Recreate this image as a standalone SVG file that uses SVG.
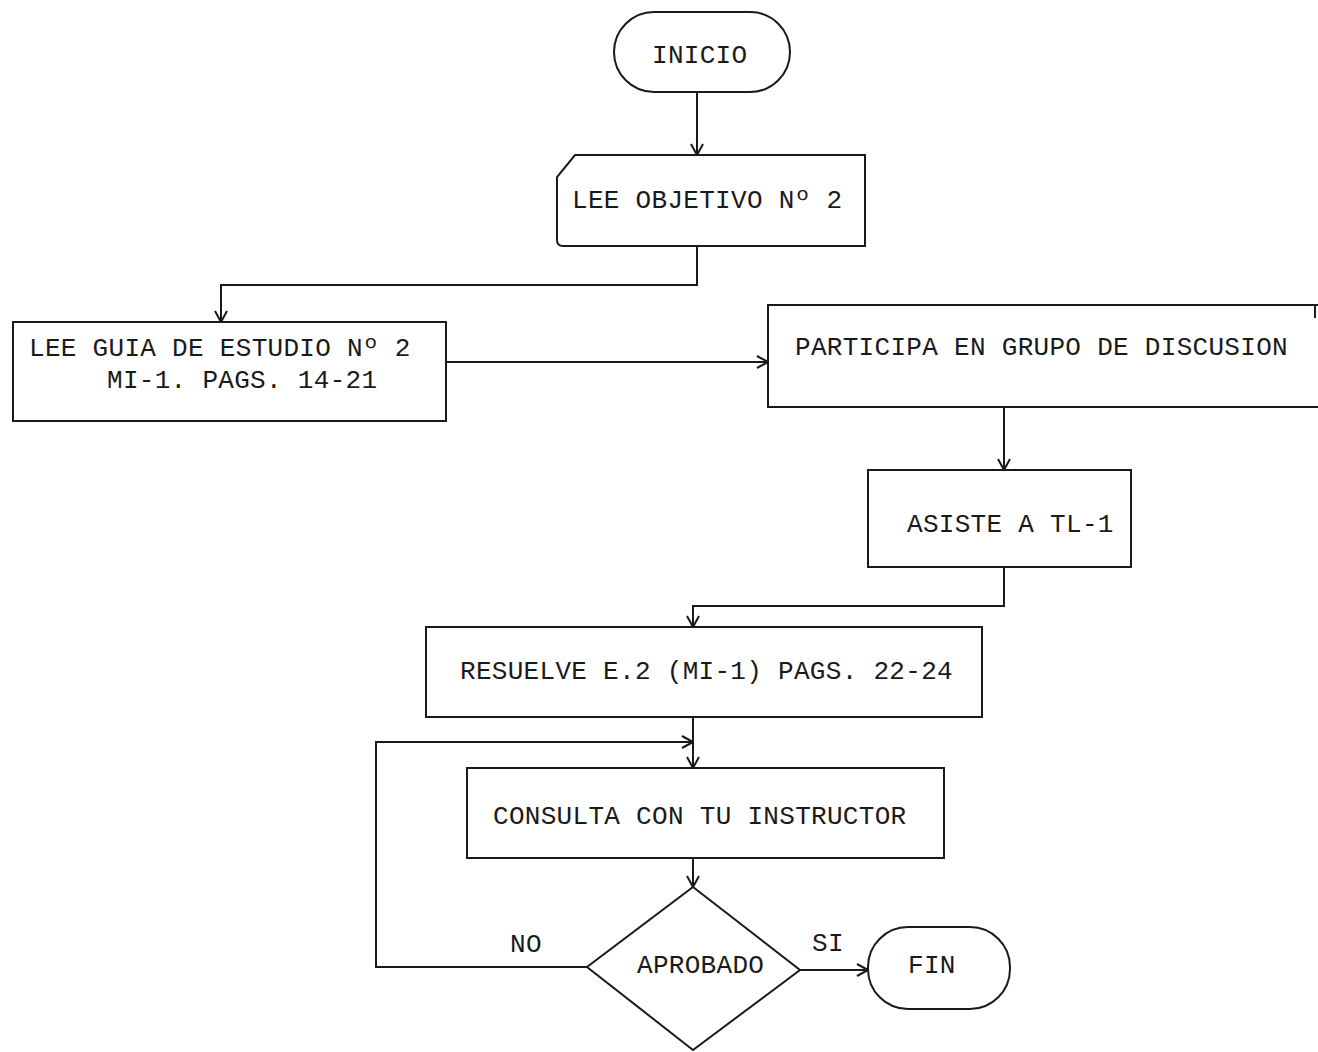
<svg xmlns="http://www.w3.org/2000/svg" width="1318" height="1052" viewBox="0 0 1318 1052">
  <defs>
    <style>
      .shape { fill: #ffffff; stroke: #1a1a1a; stroke-width: 2; }
      .open { fill: none; stroke: #1a1a1a; stroke-width: 2; }
      .edge { fill: none; stroke: #1a1a1a; stroke-width: 2; }
      .lbl { font-family: "Liberation Mono", "Courier New", monospace; font-size: 26px; letter-spacing: 0.3px; fill: #1a1a1a; }
    </style>
    <marker id="arrow" viewBox="0 0 12 14" refX="12" refY="7" markerWidth="12" markerHeight="14" markerUnits="userSpaceOnUse" orient="auto">
      <path d="M1,1 L12,7 L1,13" fill="none" stroke="#1a1a1a" stroke-width="2"/>
    </marker>
  </defs>

  <rect width="1318" height="1052" fill="#ffffff"/>

  <!-- connectors -->
  <g id="connectors">
    <path class="edge" d="M697,92 L697,155" marker-end="url(#arrow)"/>
    <path class="edge" d="M697,246 L697,285 L221,285 L221,322" marker-end="url(#arrow)"/>
    <path class="edge" d="M446,362 L768,362" marker-end="url(#arrow)"/>
    <path class="edge" d="M1004,407 L1004,470" marker-end="url(#arrow)"/>
    <path class="edge" d="M1004,567 L1004,606 L693,606 L693,627" marker-end="url(#arrow)"/>
    <path class="edge" d="M693,717 L693,768" marker-end="url(#arrow)"/>
    <path class="edge" d="M587,967 L376,967 L376,742 L693,742" marker-end="url(#arrow)"/>
    <path class="edge" d="M693,858 L693,887" marker-end="url(#arrow)"/>
    <path class="edge" d="M800,970 L868,970" marker-end="url(#arrow)"/>
  </g>

  <!-- start terminal -->
  <g id="inicio">
    <rect class="shape" x="614" y="12" width="176" height="80" rx="40" ry="40"/>
    <text class="lbl" x="652" y="63">INICIO</text>
  </g>

  <!-- punched-card input -->
  <g id="lee-objetivo">
    <path class="shape" d="M575,155 L865,155 L865,246 L563,246 Q557,246 557,240 L557,177 Z"/>
    <text class="lbl" x="572" y="208">LEE OBJETIVO Nº 2</text>
  </g>

  <g id="lee-guia">
    <rect class="shape" x="13" y="322" width="433" height="99"/>
    <text class="lbl" x="29" y="356">LEE GUIA DE ESTUDIO Nº 2</text>
    <text class="lbl" x="107" y="388">MI-1. PAGS. 14-21</text>
  </g>

  <g id="participa">
    <rect x="768" y="305" width="550" height="102" fill="#ffffff"/>
    <path class="open" d="M1318,305 L768,305 L768,407 L1318,407 M1315,305 L1315,318"/>
    <text class="lbl" x="795" y="355">PARTICIPA EN GRUPO DE DISCUSION</text>
  </g>

  <g id="asiste">
    <rect class="shape" x="868" y="470" width="263" height="97"/>
    <text class="lbl" x="907" y="532">ASISTE A TL-1</text>
  </g>

  <g id="resuelve">
    <rect class="shape" x="426" y="627" width="556" height="90"/>
    <text class="lbl" x="460" y="679">RESUELVE E.2 (MI-1) PAGS. 22-24</text>
  </g>

  <g id="consulta">
    <rect class="shape" x="467" y="768" width="477" height="90"/>
    <text class="lbl" x="493" y="824">CONSULTA CON TU INSTRUCTOR</text>
  </g>

  <!-- decision -->
  <g id="aprobado">
    <path class="shape" d="M693,887 L800,970 L693,1050 L587,967 Z"/>
    <text class="lbl" x="637" y="973">APROBADO</text>
    <text class="lbl" x="510" y="952">NO</text>
    <text class="lbl" x="812" y="951">SI</text>
  </g>

  <!-- end terminal -->
  <g id="fin">
    <rect class="shape" x="868" y="927" width="142" height="82" rx="40" ry="40"/>
    <text class="lbl" x="908" y="973">FIN</text>
  </g>
</svg>
